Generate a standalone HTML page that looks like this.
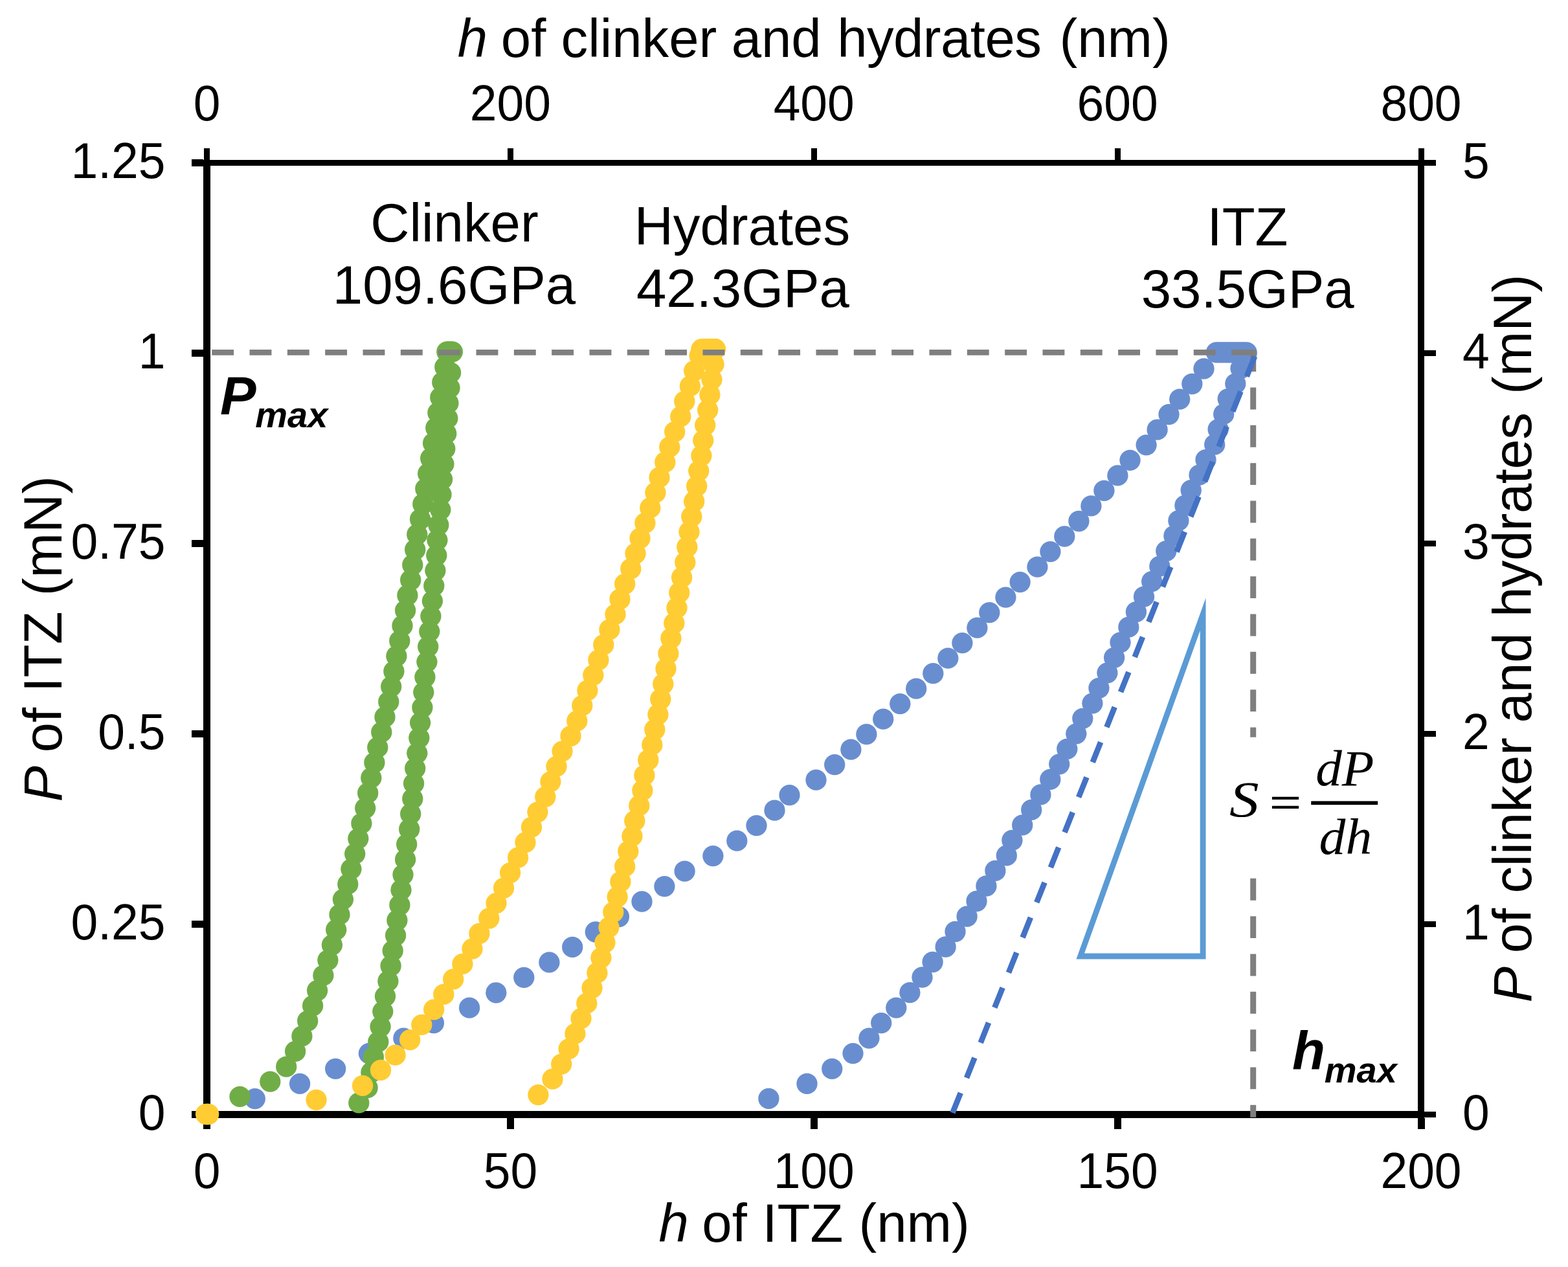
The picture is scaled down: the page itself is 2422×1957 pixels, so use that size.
<!DOCTYPE html>
<html lang="en"><head><meta charset="utf-8"><title>Nanoindentation load-depth curves</title>
<style>
html,body{margin:0;padding:0;background:#fff;}
body{width:2422px;height:1957px;}
svg{display:block;}
text{font-family:"Liberation Sans",Arial,Helvetica,sans-serif;fill:#000;}
.tk{font-size:75px;}
.tt{font-size:83.33px;}
.bi{font-weight:bold;font-style:italic;}
.eq{font-family:"Liberation Serif","Times New Roman",Times,serif;font-style:italic;font-size:83.33px;}
</style></head><body>
<svg width="2422" height="1957" viewBox="0 0 2422 1957" role="img" aria-label="Nanoindentation load-depth curves of clinker, hydrates and ITZ">
<rect x="0" y="0" width="2422" height="1957" fill="#fff"/>
<g id="axes" shape-rendering="crispEdges">
<rect x="314.00" y="247.00" width="11.00" height="1480.00" fill="#000"/>
<rect x="2190.00" y="247.00" width="10.00" height="1480.00" fill="#000"/>
<rect x="314.00" y="247.00" width="1886.00" height="9.00" fill="#000"/>
<rect x="314.00" y="1716.00" width="1886.00" height="11.00" fill="#000"/>
<rect x="314.00" y="1727.00" width="11.00" height="16.80" fill="#000"/>
<rect x="315.00" y="229.00" width="9.00" height="18.00" fill="#000"/>
<rect x="782.88" y="1727.00" width="11.00" height="16.80" fill="#000"/>
<rect x="783.88" y="229.00" width="9.00" height="18.00" fill="#000"/>
<rect x="1251.75" y="1727.00" width="11.00" height="16.80" fill="#000"/>
<rect x="1252.75" y="229.00" width="9.00" height="18.00" fill="#000"/>
<rect x="1720.62" y="1727.00" width="11.00" height="16.80" fill="#000"/>
<rect x="1721.62" y="229.00" width="9.00" height="18.00" fill="#000"/>
<rect x="2189.50" y="1727.00" width="11.00" height="16.80" fill="#000"/>
<rect x="2190.50" y="229.00" width="9.00" height="18.00" fill="#000"/>
<rect x="296.00" y="1716.00" width="18.00" height="11.00" fill="#000"/>
<rect x="2200.00" y="1717.00" width="18.00" height="9.00" fill="#000"/>
<rect x="296.00" y="1422.00" width="18.00" height="11.00" fill="#000"/>
<rect x="2200.00" y="1423.00" width="18.00" height="9.00" fill="#000"/>
<rect x="296.00" y="1128.00" width="18.00" height="11.00" fill="#000"/>
<rect x="2200.00" y="1129.00" width="18.00" height="9.00" fill="#000"/>
<rect x="296.00" y="834.00" width="18.00" height="11.00" fill="#000"/>
<rect x="2200.00" y="835.00" width="18.00" height="9.00" fill="#000"/>
<rect x="296.00" y="540.00" width="18.00" height="11.00" fill="#000"/>
<rect x="2200.00" y="541.00" width="18.00" height="9.00" fill="#000"/>
<rect x="296.00" y="246.00" width="18.00" height="11.00" fill="#000"/>
<rect x="2200.00" y="247.00" width="18.00" height="9.00" fill="#000"/>
</g>
<g id="itz" fill="#698ED0">
<circle cx="320.0" cy="1721.0" r="16.15"/>
<circle cx="393.8" cy="1697.1" r="16.15"/>
<circle cx="463.1" cy="1673.9" r="16.15"/>
<circle cx="518.2" cy="1650.8" r="16.15"/>
<circle cx="569.9" cy="1627.1" r="16.15"/>
<circle cx="623.4" cy="1603.6" r="16.15"/>
<circle cx="669.9" cy="1580.2" r="16.15"/>
<circle cx="725.1" cy="1556.7" r="16.15"/>
<circle cx="766.3" cy="1533.3" r="16.15"/>
<circle cx="809.3" cy="1509.8" r="16.15"/>
<circle cx="848.4" cy="1486.4" r="16.15"/>
<circle cx="884.2" cy="1462.9" r="16.15"/>
<circle cx="919.8" cy="1439.5" r="16.15"/>
<circle cx="955.9" cy="1416.0" r="16.15"/>
<circle cx="991.5" cy="1392.5" r="16.15"/>
<circle cx="1026.4" cy="1369.1" r="16.15"/>
<circle cx="1057.6" cy="1345.6" r="16.15"/>
<circle cx="1101.4" cy="1322.1" r="16.15"/>
<circle cx="1138.3" cy="1298.7" r="16.15"/>
<circle cx="1168.5" cy="1275.2" r="16.15"/>
<circle cx="1196.5" cy="1251.7" r="16.15"/>
<circle cx="1219.5" cy="1228.2" r="16.15"/>
<circle cx="1260.5" cy="1204.7" r="16.15"/>
<circle cx="1289.2" cy="1181.2" r="16.15"/>
<circle cx="1314.4" cy="1157.7" r="16.15"/>
<circle cx="1338.4" cy="1134.2" r="16.15"/>
<circle cx="1364.2" cy="1110.7" r="16.15"/>
<circle cx="1390.3" cy="1087.2" r="16.15"/>
<circle cx="1415.2" cy="1063.7" r="16.15"/>
<circle cx="1441.3" cy="1040.2" r="16.15"/>
<circle cx="1464.3" cy="1016.7" r="16.15"/>
<circle cx="1486.4" cy="993.2" r="16.15"/>
<circle cx="1509.4" cy="969.7" r="16.15"/>
<circle cx="1528.3" cy="946.2" r="16.15"/>
<circle cx="1553.4" cy="922.6" r="16.15"/>
<circle cx="1575.6" cy="899.1" r="16.15"/>
<circle cx="1602.4" cy="875.6" r="16.15"/>
<circle cx="1622.4" cy="852.1" r="16.15"/>
<circle cx="1644.3" cy="828.5" r="16.15"/>
<circle cx="1666.4" cy="805.0" r="16.15"/>
<circle cx="1685.4" cy="781.4" r="16.15"/>
<circle cx="1705.4" cy="757.9" r="16.15"/>
<circle cx="1726.4" cy="734.4" r="16.15"/>
<circle cx="1745.5" cy="710.8" r="16.15"/>
<circle cx="1770.6" cy="687.3" r="16.15"/>
<circle cx="1787.6" cy="663.7" r="16.15"/>
<circle cx="1805.5" cy="640.1" r="16.15"/>
<circle cx="1822.2" cy="616.6" r="16.15"/>
<circle cx="1841.3" cy="593.0" r="16.15"/>
<circle cx="1859.5" cy="569.5" r="16.15"/>
<circle cx="1878.8" cy="544.3" r="16.15"/>
<circle cx="1883.1" cy="544.3" r="16.15"/>
<circle cx="1887.3" cy="544.3" r="16.15"/>
<circle cx="1891.6" cy="544.3" r="16.15"/>
<circle cx="1895.8" cy="544.3" r="16.15"/>
<circle cx="1900.1" cy="544.3" r="16.15"/>
<circle cx="1904.3" cy="544.3" r="16.15"/>
<circle cx="1908.6" cy="544.3" r="16.15"/>
<circle cx="1912.8" cy="544.3" r="16.15"/>
<circle cx="1917.1" cy="544.3" r="16.15"/>
<circle cx="1921.3" cy="544.3" r="16.15"/>
<circle cx="1925.6" cy="544.3" r="16.15"/>
<circle cx="1925.5" cy="545.6" r="16.15"/>
<circle cx="1916.5" cy="569.1" r="16.15"/>
<circle cx="1908.3" cy="592.6" r="16.15"/>
<circle cx="1896.7" cy="616.1" r="16.15"/>
<circle cx="1890.2" cy="639.7" r="16.15"/>
<circle cx="1881.6" cy="663.2" r="16.15"/>
<circle cx="1876.2" cy="686.7" r="16.15"/>
<circle cx="1862.5" cy="710.2" r="16.15"/>
<circle cx="1852.5" cy="733.7" r="16.15"/>
<circle cx="1839.7" cy="757.2" r="16.15"/>
<circle cx="1830.4" cy="780.7" r="16.15"/>
<circle cx="1820.4" cy="804.2" r="16.15"/>
<circle cx="1813.4" cy="827.7" r="16.15"/>
<circle cx="1801.3" cy="851.2" r="16.15"/>
<circle cx="1791.3" cy="874.7" r="16.15"/>
<circle cx="1779.2" cy="898.2" r="16.15"/>
<circle cx="1767.0" cy="921.7" r="16.15"/>
<circle cx="1754.9" cy="945.2" r="16.15"/>
<circle cx="1743.3" cy="968.7" r="16.15"/>
<circle cx="1730.5" cy="992.3" r="16.15"/>
<circle cx="1721.1" cy="1015.8" r="16.15"/>
<circle cx="1710.4" cy="1039.3" r="16.15"/>
<circle cx="1697.4" cy="1062.8" r="16.15"/>
<circle cx="1687.4" cy="1086.3" r="16.15"/>
<circle cx="1672.3" cy="1109.8" r="16.15"/>
<circle cx="1662.3" cy="1133.3" r="16.15"/>
<circle cx="1648.3" cy="1156.8" r="16.15"/>
<circle cx="1636.2" cy="1180.3" r="16.15"/>
<circle cx="1622.3" cy="1203.9" r="16.15"/>
<circle cx="1607.4" cy="1227.4" r="16.15"/>
<circle cx="1593.2" cy="1250.9" r="16.15"/>
<circle cx="1579.2" cy="1274.4" r="16.15"/>
<circle cx="1563.4" cy="1297.9" r="16.15"/>
<circle cx="1554.8" cy="1321.4" r="16.15"/>
<circle cx="1537.4" cy="1344.9" r="16.15"/>
<circle cx="1523.4" cy="1368.5" r="16.15"/>
<circle cx="1508.5" cy="1392.0" r="16.15"/>
<circle cx="1493.6" cy="1415.5" r="16.15"/>
<circle cx="1475.5" cy="1439.0" r="16.15"/>
<circle cx="1460.6" cy="1462.5" r="16.15"/>
<circle cx="1440.6" cy="1486.0" r="16.15"/>
<circle cx="1424.5" cy="1509.5" r="16.15"/>
<circle cx="1405.4" cy="1533.1" r="16.15"/>
<circle cx="1384.3" cy="1556.6" r="16.15"/>
<circle cx="1361.2" cy="1580.1" r="16.15"/>
<circle cx="1342.4" cy="1603.6" r="16.15"/>
<circle cx="1317.5" cy="1627.1" r="16.15"/>
<circle cx="1285.2" cy="1650.9" r="16.15"/>
<circle cx="1246.5" cy="1673.9" r="16.15"/>
<circle cx="1187.4" cy="1696.9" r="16.15"/>
</g>
<g id="clinker" fill="#70AD47">
<circle cx="320.0" cy="1721.0" r="16.15"/>
<circle cx="370.5" cy="1693.9" r="16.15"/>
<circle cx="417.3" cy="1670.6" r="16.15"/>
<circle cx="442.2" cy="1647.6" r="16.15"/>
<circle cx="456.1" cy="1623.9" r="16.15"/>
<circle cx="466.4" cy="1600.4" r="16.15"/>
<circle cx="475.2" cy="1577.0" r="16.15"/>
<circle cx="483.1" cy="1553.5" r="16.15"/>
<circle cx="490.1" cy="1530.0" r="16.15"/>
<circle cx="499.4" cy="1506.6" r="16.15"/>
<circle cx="506.4" cy="1483.1" r="16.15"/>
<circle cx="512.9" cy="1459.6" r="16.15"/>
<circle cx="519.2" cy="1436.1" r="16.15"/>
<circle cx="524.5" cy="1412.7" r="16.15"/>
<circle cx="529.9" cy="1389.2" r="16.15"/>
<circle cx="537.3" cy="1365.7" r="16.15"/>
<circle cx="542.4" cy="1342.3" r="16.15"/>
<circle cx="548.2" cy="1318.8" r="16.15"/>
<circle cx="553.3" cy="1295.3" r="16.15"/>
<circle cx="558.4" cy="1271.8" r="16.15"/>
<circle cx="564.2" cy="1248.3" r="16.15"/>
<circle cx="568.2" cy="1224.9" r="16.15"/>
<circle cx="573.3" cy="1201.4" r="16.15"/>
<circle cx="578.4" cy="1177.9" r="16.15"/>
<circle cx="583.3" cy="1154.4" r="16.15"/>
<circle cx="589.3" cy="1130.9" r="16.15"/>
<circle cx="594.5" cy="1107.4" r="16.15"/>
<circle cx="600.3" cy="1084.0" r="16.15"/>
<circle cx="604.2" cy="1060.5" r="16.15"/>
<circle cx="608.4" cy="1037.0" r="16.15"/>
<circle cx="612.4" cy="1013.5" r="16.15"/>
<circle cx="617.3" cy="990.0" r="16.15"/>
<circle cx="621.5" cy="966.5" r="16.15"/>
<circle cx="626.1" cy="943.0" r="16.15"/>
<circle cx="629.4" cy="919.5" r="16.15"/>
<circle cx="634.2" cy="896.0" r="16.15"/>
<circle cx="637.3" cy="872.5" r="16.15"/>
<circle cx="641.2" cy="849.0" r="16.15"/>
<circle cx="644.3" cy="825.5" r="16.15"/>
<circle cx="649.1" cy="802.0" r="16.15"/>
<circle cx="653.3" cy="778.5" r="16.15"/>
<circle cx="657.3" cy="755.0" r="16.15"/>
<circle cx="661.2" cy="731.5" r="16.15"/>
<circle cx="665.2" cy="708.0" r="16.15"/>
<circle cx="669.1" cy="684.5" r="16.15"/>
<circle cx="673.3" cy="661.0" r="16.15"/>
<circle cx="676.4" cy="637.5" r="16.15"/>
<circle cx="680.3" cy="614.0" r="16.15"/>
<circle cx="683.3" cy="590.5" r="16.15"/>
<circle cx="687.3" cy="567.0" r="16.15"/>
<circle cx="694.5" cy="543.5" r="16.15"/>
<circle cx="690.3" cy="543.3" r="16.15"/>
<circle cx="693.2" cy="543.3" r="16.15"/>
<circle cx="696.0" cy="543.3" r="16.15"/>
<circle cx="698.9" cy="543.3" r="16.15"/>
<circle cx="696.1" cy="575.6" r="16.15"/>
<circle cx="694.5" cy="599.2" r="16.15"/>
<circle cx="692.4" cy="622.7" r="16.15"/>
<circle cx="691.3" cy="646.2" r="16.15"/>
<circle cx="689.2" cy="669.7" r="16.15"/>
<circle cx="687.3" cy="693.2" r="16.15"/>
<circle cx="685.4" cy="716.8" r="16.15"/>
<circle cx="683.1" cy="740.3" r="16.15"/>
<circle cx="681.5" cy="763.8" r="16.15"/>
<circle cx="680.3" cy="787.3" r="16.15"/>
<circle cx="677.3" cy="810.8" r="16.15"/>
<circle cx="675.4" cy="834.3" r="16.15"/>
<circle cx="674.3" cy="857.8" r="16.15"/>
<circle cx="672.4" cy="881.3" r="16.15"/>
<circle cx="670.3" cy="904.8" r="16.15"/>
<circle cx="667.9" cy="928.3" r="16.15"/>
<circle cx="665.4" cy="951.8" r="16.15"/>
<circle cx="663.3" cy="975.3" r="16.15"/>
<circle cx="661.2" cy="998.8" r="16.15"/>
<circle cx="659.4" cy="1022.3" r="16.15"/>
<circle cx="656.4" cy="1045.8" r="16.15"/>
<circle cx="654.3" cy="1069.3" r="16.15"/>
<circle cx="652.4" cy="1092.8" r="16.15"/>
<circle cx="649.1" cy="1116.3" r="16.15"/>
<circle cx="647.3" cy="1139.8" r="16.15"/>
<circle cx="644.3" cy="1163.3" r="16.15"/>
<circle cx="641.2" cy="1186.8" r="16.15"/>
<circle cx="639.1" cy="1210.2" r="16.15"/>
<circle cx="637.3" cy="1233.7" r="16.15"/>
<circle cx="634.2" cy="1257.2" r="16.15"/>
<circle cx="632.2" cy="1280.7" r="16.15"/>
<circle cx="628.2" cy="1304.2" r="16.15"/>
<circle cx="626.1" cy="1327.6" r="16.15"/>
<circle cx="622.5" cy="1351.1" r="16.15"/>
<circle cx="619.5" cy="1374.6" r="16.15"/>
<circle cx="617.4" cy="1398.0" r="16.15"/>
<circle cx="613.4" cy="1421.5" r="16.15"/>
<circle cx="611.1" cy="1445.0" r="16.15"/>
<circle cx="606.7" cy="1468.5" r="16.15"/>
<circle cx="603.6" cy="1491.9" r="16.15"/>
<circle cx="599.4" cy="1515.4" r="16.15"/>
<circle cx="595.0" cy="1538.8" r="16.15"/>
<circle cx="591.3" cy="1562.3" r="16.15"/>
<circle cx="587.6" cy="1585.8" r="16.15"/>
<circle cx="584.3" cy="1609.2" r="16.15"/>
<circle cx="576.9" cy="1632.7" r="16.15"/>
<circle cx="573.4" cy="1656.4" r="16.15"/>
<circle cx="567.6" cy="1680.2" r="16.15"/>
<circle cx="554.3" cy="1703.4" r="16.15"/>
</g>
<g id="hydrates" fill="#FFCC33">
<circle cx="318.1" cy="1721.0" r="16.15"/>
<circle cx="322.1" cy="1721.0" r="16.15"/>
<circle cx="488.5" cy="1698.8" r="16.15"/>
<circle cx="560.1" cy="1676.9" r="16.15"/>
<circle cx="588.0" cy="1652.9" r="16.15"/>
<circle cx="610.6" cy="1629.7" r="16.15"/>
<circle cx="633.2" cy="1606.2" r="16.15"/>
<circle cx="651.3" cy="1582.8" r="16.15"/>
<circle cx="670.2" cy="1559.3" r="16.15"/>
<circle cx="685.3" cy="1535.9" r="16.15"/>
<circle cx="700.2" cy="1512.4" r="16.15"/>
<circle cx="714.4" cy="1488.9" r="16.15"/>
<circle cx="729.5" cy="1465.5" r="16.15"/>
<circle cx="740.4" cy="1442.0" r="16.15"/>
<circle cx="755.3" cy="1418.5" r="16.15"/>
<circle cx="766.5" cy="1395.1" r="16.15"/>
<circle cx="778.1" cy="1371.6" r="16.15"/>
<circle cx="788.1" cy="1348.1" r="16.15"/>
<circle cx="800.1" cy="1324.7" r="16.15"/>
<circle cx="811.5" cy="1301.2" r="16.15"/>
<circle cx="821.0" cy="1277.7" r="16.15"/>
<circle cx="830.4" cy="1254.3" r="16.15"/>
<circle cx="842.3" cy="1230.8" r="16.15"/>
<circle cx="850.4" cy="1207.3" r="16.15"/>
<circle cx="859.5" cy="1183.8" r="16.15"/>
<circle cx="868.5" cy="1160.3" r="16.15"/>
<circle cx="881.5" cy="1136.9" r="16.15"/>
<circle cx="891.3" cy="1113.4" r="16.15"/>
<circle cx="899.3" cy="1089.9" r="16.15"/>
<circle cx="907.4" cy="1066.4" r="16.15"/>
<circle cx="916.3" cy="1042.9" r="16.15"/>
<circle cx="924.4" cy="1019.4" r="16.15"/>
<circle cx="932.3" cy="995.9" r="16.15"/>
<circle cx="941.4" cy="972.4" r="16.15"/>
<circle cx="950.5" cy="948.9" r="16.15"/>
<circle cx="957.5" cy="925.5" r="16.15"/>
<circle cx="965.2" cy="902.0" r="16.15"/>
<circle cx="974.3" cy="878.5" r="16.15"/>
<circle cx="981.5" cy="855.0" r="16.15"/>
<circle cx="988.5" cy="831.5" r="16.15"/>
<circle cx="996.4" cy="807.9" r="16.15"/>
<circle cx="1004.3" cy="784.4" r="16.15"/>
<circle cx="1012.4" cy="760.9" r="16.15"/>
<circle cx="1018.5" cy="737.4" r="16.15"/>
<circle cx="1027.3" cy="713.9" r="16.15"/>
<circle cx="1034.3" cy="690.4" r="16.15"/>
<circle cx="1042.2" cy="666.9" r="16.15"/>
<circle cx="1051.3" cy="643.4" r="16.15"/>
<circle cx="1057.3" cy="619.9" r="16.15"/>
<circle cx="1065.9" cy="596.4" r="16.15"/>
<circle cx="1072.2" cy="572.8" r="16.15"/>
<circle cx="1080.6" cy="549.3" r="16.15"/>
<circle cx="1083.4" cy="539.3" r="16.15"/>
<circle cx="1086.5" cy="539.3" r="16.15"/>
<circle cx="1089.5" cy="539.3" r="16.15"/>
<circle cx="1092.6" cy="539.3" r="16.15"/>
<circle cx="1095.6" cy="539.3" r="16.15"/>
<circle cx="1098.7" cy="539.3" r="16.15"/>
<circle cx="1101.7" cy="539.3" r="16.15"/>
<circle cx="1104.8" cy="539.3" r="16.15"/>
<circle cx="1104.8" cy="539.2" r="16.15"/>
<circle cx="1102.5" cy="562.7" r="16.15"/>
<circle cx="1099.4" cy="586.2" r="16.15"/>
<circle cx="1096.4" cy="609.7" r="16.15"/>
<circle cx="1093.2" cy="633.3" r="16.15"/>
<circle cx="1089.2" cy="656.8" r="16.15"/>
<circle cx="1086.2" cy="680.3" r="16.15"/>
<circle cx="1083.4" cy="703.8" r="16.15"/>
<circle cx="1079.2" cy="727.3" r="16.15"/>
<circle cx="1076.2" cy="750.9" r="16.15"/>
<circle cx="1072.2" cy="774.4" r="16.15"/>
<circle cx="1068.3" cy="797.9" r="16.15"/>
<circle cx="1064.5" cy="821.4" r="16.15"/>
<circle cx="1061.3" cy="844.9" r="16.15"/>
<circle cx="1058.3" cy="868.4" r="16.15"/>
<circle cx="1053.1" cy="891.9" r="16.15"/>
<circle cx="1049.2" cy="915.4" r="16.15"/>
<circle cx="1045.5" cy="938.9" r="16.15"/>
<circle cx="1041.3" cy="962.4" r="16.15"/>
<circle cx="1036.4" cy="986.0" r="16.15"/>
<circle cx="1032.4" cy="1009.5" r="16.15"/>
<circle cx="1028.5" cy="1033.0" r="16.15"/>
<circle cx="1024.3" cy="1056.5" r="16.15"/>
<circle cx="1020.3" cy="1080.0" r="16.15"/>
<circle cx="1016.4" cy="1103.5" r="16.15"/>
<circle cx="1011.3" cy="1127.0" r="16.15"/>
<circle cx="1007.3" cy="1150.4" r="16.15"/>
<circle cx="1001.3" cy="1173.9" r="16.15"/>
<circle cx="995.4" cy="1197.4" r="16.15"/>
<circle cx="992.4" cy="1220.9" r="16.15"/>
<circle cx="987.3" cy="1244.4" r="16.15"/>
<circle cx="980.3" cy="1267.9" r="16.15"/>
<circle cx="976.4" cy="1291.4" r="16.15"/>
<circle cx="970.3" cy="1314.9" r="16.15"/>
<circle cx="965.2" cy="1338.4" r="16.15"/>
<circle cx="958.4" cy="1361.9" r="16.15"/>
<circle cx="953.6" cy="1385.3" r="16.15"/>
<circle cx="947.3" cy="1408.8" r="16.15"/>
<circle cx="940.5" cy="1432.3" r="16.15"/>
<circle cx="934.5" cy="1455.8" r="16.15"/>
<circle cx="928.4" cy="1479.3" r="16.15"/>
<circle cx="922.4" cy="1502.7" r="16.15"/>
<circle cx="914.5" cy="1526.2" r="16.15"/>
<circle cx="906.3" cy="1549.7" r="16.15"/>
<circle cx="897.5" cy="1573.2" r="16.15"/>
<circle cx="888.4" cy="1596.6" r="16.15"/>
<circle cx="878.6" cy="1620.1" r="16.15"/>
<circle cx="867.2" cy="1643.6" r="16.15"/>
<circle cx="853.5" cy="1666.7" r="16.15"/>
<circle cx="831.4" cy="1691.1" r="16.15"/>
</g>
<path d="M1858.1 948.8 L1858.1 1477 L1668.7 1477 Z" fill="none" stroke="#5B9BD5" stroke-width="8.8" stroke-linejoin="miter" stroke-miterlimit="20"/>
<line x1="327.2" y1="544.4" x2="1940.2" y2="544.4" stroke="#7F7F7F" stroke-width="8.7" stroke-dasharray="33.9 24.43"/>
<line x1="1935.7" y1="540.2" x2="1935.7" y2="1725.8" stroke="#7F7F7F" stroke-width="9" stroke-dasharray="33.9 24.43"/>
<line x1="1938.1" y1="550.5" x2="1470.3" y2="1721.8" stroke="#4472C4" stroke-width="8.7" stroke-dasharray="33.3 25.03"/>
<rect x="1880.00" y="1138.70" width="270.00" height="206.30" fill="#fff"/>
<text class="eq" transform="translate(1898.9 1260.7) scale(1.17 1)" style="font-size:78px">S</text>
<text transform="translate(1960.76 1259.1) scale(1.47 1)" style="font-size:57.7px">=</text>
<rect x="2025.20" y="1237.40" width="103.00" height="5.70" fill="#000"/>
<text class="eq" transform="translate(2032.2 1212.5) scale(1.041 1)" style="font-size:78px">dP</text>
<text class="eq" transform="translate(2037.6 1319.3) scale(1.047 1)" style="font-size:78px">dh</text>
<text class="tk" transform="translate(319.5 1835) scale(1 1.03)" text-anchor="middle">0</text>
<text class="tk" transform="translate(788.4 1835) scale(1 1.03)" text-anchor="middle">50</text>
<text class="tk" transform="translate(1257.2 1835) scale(1 1.03)" text-anchor="middle">100</text>
<text class="tk" transform="translate(1726.1 1835) scale(1 1.03)" text-anchor="middle">150</text>
<text class="tk" transform="translate(2195.0 1835) scale(1 1.03)" text-anchor="middle">200</text>
<text class="tk" transform="translate(319.5 185.6) scale(1 1.03)" text-anchor="middle">0</text>
<text class="tk" transform="translate(788.4 185.6) scale(1 1.03)" text-anchor="middle">200</text>
<text class="tk" transform="translate(1257.2 185.6) scale(1 1.03)" text-anchor="middle">400</text>
<text class="tk" transform="translate(1726.1 185.6) scale(1 1.03)" text-anchor="middle">600</text>
<text class="tk" transform="translate(2195.0 185.6) scale(1 1.03)" text-anchor="middle">800</text>
<text class="tk" transform="translate(255.4 1745.1) scale(1 1.03)" text-anchor="end">0</text>
<text class="tk" transform="translate(255.4 1451.1) scale(1 1.03)" text-anchor="end">0.25</text>
<text class="tk" transform="translate(255.4 1157.1) scale(1 1.03)" text-anchor="end">0.5</text>
<text class="tk" transform="translate(255.4 863.1) scale(1 1.03)" text-anchor="end">0.75</text>
<text class="tk" transform="translate(255.4 569.1) scale(1 1.03)" text-anchor="end">1</text>
<text class="tk" transform="translate(255.4 275.1) scale(1 1.03)" text-anchor="end">1.25</text>
<text class="tk" transform="translate(2259 1745.1) scale(1 1.03)">0</text>
<text class="tk" transform="translate(2259 1451.1) scale(1 1.03)">1</text>
<text class="tk" transform="translate(2259 1157.1) scale(1 1.03)">2</text>
<text class="tk" transform="translate(2259 863.1) scale(1 1.03)">3</text>
<text class="tk" transform="translate(2259 569.1) scale(1 1.03)">4</text>
<text class="tk" transform="translate(2259 275.1) scale(1 1.03)">5</text>
<text class="tt" x="706.85" y="87.8" xml:space="preserve"><tspan font-style="italic">h</tspan><tspan dx="-2.50"> of</tspan><tspan> clinker</tspan><tspan dx="-0.80"> and</tspan><tspan dx="1.30"> </tspan><tspan letter-spacing="-0.55">hydrates</tspan><tspan dx="4.90"> (nm)</tspan></text>
<text class="tt" x="1017.45" y="1917.8" xml:space="preserve"><tspan font-style="italic">h</tspan><tspan dx="-2.60"> of</tspan><tspan dx="0.40"> ITZ</tspan><tspan dx="1.00"> (nm)</tspan></text>
<text class="tt" transform="translate(94.8 986.2) rotate(-90)" x="-252.29" y="0" xml:space="preserve"><tspan font-style="italic">P</tspan><tspan dx="-2.60"> of</tspan><tspan dx="0.40"> ITZ</tspan><tspan dx="1.00"> (mN)</tspan></text>
<text class="tt" transform="translate(2365.3 985.8) rotate(-90)" x="-562.68" y="0" xml:space="preserve"><tspan font-style="italic">P</tspan><tspan dx="-2.50"> of</tspan><tspan dx="-0.30"> clinker</tspan><tspan dx="-0.50"> and</tspan><tspan dx="1.30"> </tspan><tspan letter-spacing="-0.55">hydrates</tspan><tspan dx="5.70"> (mN)</tspan></text>
<text class="tt" x="702" y="373" text-anchor="middle">Clinker</text>
<text class="tt" x="701.5" y="468.8" text-anchor="middle">109.6GPa</text>
<text class="tt" x="1146.4" y="377.9" text-anchor="middle">Hydrates</text>
<text class="tt" x="1147.5" y="473.9" text-anchor="middle">42.3GPa</text>
<text class="tt" x="1927" y="379" text-anchor="middle">ITZ</text>
<text class="tt" x="1927.2" y="474.8" text-anchor="middle">33.5GPa</text>
<text class="tt bi" x="340" y="639.6">P<tspan x="394.2" y="659.6" font-size="56">max</tspan></text>
<text class="tt bi" x="1996" y="1652.4">h<tspan x="2045.7" y="1672.2" font-size="56">max</tspan></text>
</svg></body></html>
